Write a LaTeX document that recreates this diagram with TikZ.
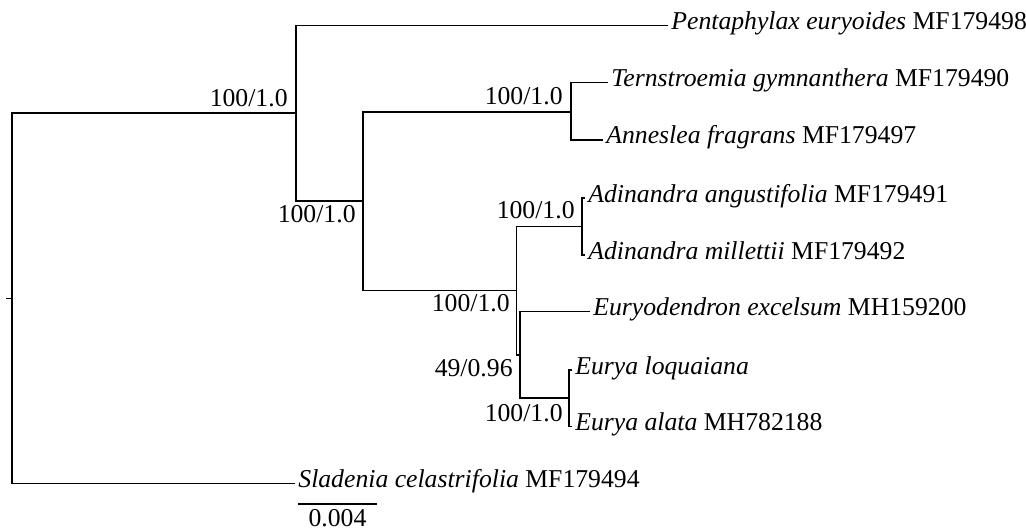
\documentclass[tikz,border=0pt]{standalone}
\usepackage{fontspec}
\setmainfont{Liberation Serif}
\usetikzlibrary{positioning,calc}

\begin{document}
\begin{tikzpicture}[x=0.5pt,y=-0.5pt,font=\fontsize{12.85}{15}\selectfont,
   br/.style={line width=0.75pt},
   leaf/.style={anchor=west,inner xsep=1.5pt,inner ysep=0pt,text height=0.7em,text depth=0.3em},
   supp/.style={inner sep=0pt,text height=0.68em,text depth=0pt}]
  \useasboundingbox (0,0) rectangle (1026,529);
  \coordinate (stub) at (6,298.5);
  \coordinate (root) at (12,298.5);
  \coordinate (nA) at (296,113);
  \coordinate (nB) at (363,201);
  \coordinate (nC) at (571,112);
  \coordinate (nD) at (516.7,290.7);
  \coordinate (nAd) at (582,226.7);
  \coordinate (nE) at (520,355);
  \coordinate (nEu) at (569,398);
  \node[leaf] (pent) at (668,25.3) {\textit{Pentaphylax euryoides} MF179498};
  \node[leaf] (tern) at (608,82.7) {\textit{Ternstroemia gymnanthera} MF179490};
  \node[leaf] (anne) at (603,140) {\textit{Anneslea fragrans} MF179497};
  \node[leaf] (adia) at (585,198) {\textit{Adinandra angustifolia} MF179491};
  \node[leaf] (adim) at (585,255) {\textit{Adinandra millettii} MF179492};
  \node[leaf] (eude) at (590,311.7) {\textit{Euryodendron excelsum} MH159200};
  \node[leaf] (eulo) at (572,370) {\textit{Eurya loquaiana}};
  \node[leaf] (eual) at (572,426.7) {\textit{Eurya alata} MH782188};
  \node[leaf] (slad) at (295,483.7) {\textit{Sladenia celastrifolia} MF179494};
  \node[supp,above left=3pt and 4pt of nA] (sA) {100/1.0};
  \node[supp,below left=3.6pt and 3.5pt of nB] (sB) {100/1.0};
  \node[supp,above left=3.3pt and 4pt of nC] (sC) {100/1.0};
  \node[supp,above left=3.8pt and 3.5pt of nAd] (sAd) {100/1.0};
  \node[supp,below left=3.2pt and 3.3pt of nD] (sD) {100/1.0};
  \node[supp,below left=3.5pt and 3.5pt of nE] (sE) {49/0.96};
  \node[supp,below left=4.5pt and 3pt of nEu] (sEu) {100/1.0};
  \draw[br] (stub) -- (root);
  \draw[br] (root) |- (nA);
  \draw[br] (root) |- (slad.west);
  \draw[br] (nA) |- (pent.west);
  \draw[br] (nA) |- (nB);
  \draw[br] (nB) |- (nC);
  \draw[br] (nB) |- (nD);
  \draw[br] (nC) |- (tern.west);
  \draw[br] (nC) |- (anne.west);
  \draw[br] (nD) |- (nAd);
  \draw[br] (nD) |- (nE);
  \draw[br] (nAd) |- (adia.west);
  \draw[br] (nAd) |- (adim.west);
  \draw[br] (nE) |- (eude.west);
  \draw[br] (nE) |- (nEu);
  \draw[br] (nEu) |- (eulo.west);
  \draw[br] (nEu) |- (eual.west);
  \coordinate (sb1) at (298,504);
  \coordinate (sb2) at (377,504);
  \draw[br] (sb1) -- (sb2);
  \node[supp,below=4pt] (sbl) at ($(sb1)!0.5!(sb2)$) {0.004};
\end{tikzpicture}
\end{document}
